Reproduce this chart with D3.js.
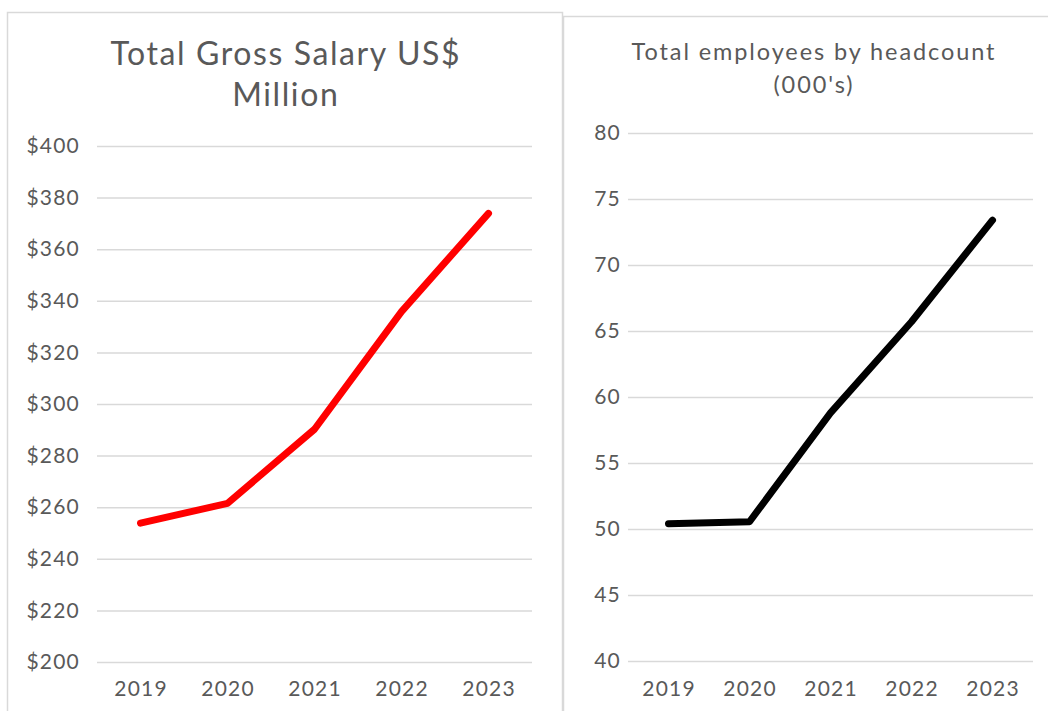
<!DOCTYPE html>
<html>
<head>
<meta charset="utf-8">
<script src="https://cdn.jsdelivr.net/npm/d3@7"></script>
<style>
  html, body { margin: 0; padding: 0; background: #fff; }
  svg { display: block; }
  text { font-family: Lato, "Open Sans", sans-serif; fill: #595959; }
</style>
</head>
<body>
<svg id="chart" width="1048" height="711"></svg>
<script>
// ---- data ----
const years = ["2019", "2020", "2021", "2022", "2023"];
const salary = [253.8, 261.5, 290.2, 335.8, 373.9];
const headcount = [50.4, 50.55, 58.8, 65.7, 73.4];
const salaryTicks = [200, 220, 240, 260, 280, 300, 320, 340, 360, 380, 400];
const headcountTicks = [40, 45, 50, 55, 60, 65, 70, 75, 80];
const salaryTitle = ["Total Gross Salary US$", "Million"];
const headcountTitle = ["Total employees by headcount", "(000's)"];

const svg = d3.select("#chart");
const grid = "#d9d9d9";

// panel borders
svg.append("rect").attr("x", 7.5).attr("y", 12.5).attr("width", 555).attr("height", 760)
  .attr("fill", "#fff").attr("stroke", grid).attr("stroke-width", 1.5);
svg.append("rect").attr("x", 563.5).attr("y", 16.5).attr("width", 520).attr("height", 760)
  .attr("fill", "#fff").attr("stroke", grid).attr("stroke-width", 1.5);

function panel(cfg) {
  const g = svg.append("g");
  const x = d3.scaleBand().domain(years).range(cfg.xr);
  const y = d3.scaleLinear().domain(cfg.domain).range(cfg.yr);

  // gridlines + y labels via axis
  const yAxis = d3.axisLeft(y).tickValues(cfg.ticks).tickFormat(cfg.fmt)
    .tickSize(-(cfg.xr[1] - cfg.xr[0])).tickPadding(cfg.pad);
  const ya = g.append("g").attr("transform", `translate(${cfg.xr[0]},0)`).call(yAxis);
  ya.select(".domain").remove();
  ya.selectAll(".tick line").attr("stroke", grid).attr("stroke-width", 1.5);
  ya.selectAll(".tick text").attr("font-size", cfg.fs).attr("fill", "#595959")
    .attr("font-family", "Lato, sans-serif").attr("letter-spacing", cfg.ls);

  // x labels
  const xAxis = d3.axisBottom(x).tickSize(0).tickPadding(0);
  const xa = g.append("g").attr("transform", `translate(0,${cfg.xLabelY})`).call(xAxis);
  xa.select(".domain").remove();
  xa.selectAll(".tick text").attr("font-size", cfg.fs).attr("fill", "#595959")
    .attr("font-family", "Lato, sans-serif").attr("dy", "0.35em")
    .attr("letter-spacing", cfg.ls).attr("dx", cfg.ls / 2);

  // line
  const line = d3.line().x((d, i) => x(years[i]) + x.bandwidth() / 2).y(d => y(d));
  g.append("path").datum(cfg.values).attr("d", line)
    .attr("fill", "none").attr("stroke", cfg.color).attr("stroke-width", 7)
    .attr("stroke-linecap", "round").attr("stroke-linejoin", "round");

  // title
  const t = g.append("text").attr("text-anchor", "middle").attr("font-size", cfg.titleFs)
    .attr("letter-spacing", cfg.titleLs);
  cfg.title.forEach((s, i) => {
    t.append("tspan").attr("x", cfg.titleX + cfg.titleLs / 2).attr("y", cfg.titleY[i]).text(s);
  });
}

panel({
  xr: [97, 532], yr: [662, 146], domain: [200, 400], ticks: salaryTicks,
  fmt: d => "$" + d, pad: 17, fs: 21, ls: 1.2, xLabelY: 689, values: salary, color: "#ff0000",
  title: salaryTitle, titleX: 285, titleY: [65, 106], titleFs: 32, titleLs: 1.6
});
panel({
  xr: [628, 1033], yr: [661, 133], domain: [40, 80], ticks: headcountTicks,
  fmt: d => String(d), pad: 7, fs: 21, ls: 1.2, xLabelY: 689, values: headcount, color: "#000000",
  title: headcountTitle, titleX: 813, titleY: [60, 93], titleFs: 23.5, titleLs: 1.9
});
</script>
</body>
</html>
